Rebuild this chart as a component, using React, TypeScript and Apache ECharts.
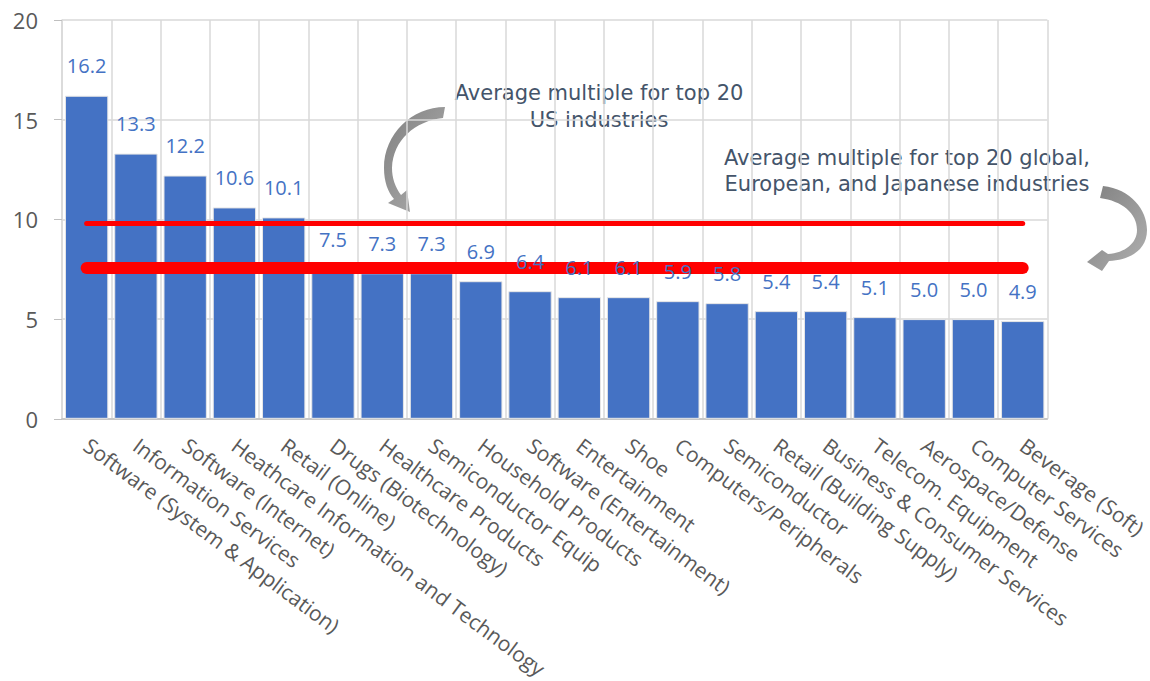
import React, { useEffect, useRef } from "react";
import * as echarts from "echarts";

const categories = [
  "Software (System & Application)",
  "Information Services",
  "Software (Internet)",
  "Heathcare Information and Technology",
  "Retail (Online)",
  "Drugs (Biotechnology)",
  "Healthcare Products",
  "Semiconductor Equip",
  "Household Products",
  "Software (Entertainment)",
  "Entertainment",
  "Shoe",
  "Computers/Peripherals",
  "Semiconductor",
  "Retail (Building Supply)",
  "Business & Consumer Services",
  "Telecom. Equipment",
  "Aerospace/Defense",
  "Computer Services",
  "Beverage (Soft)",
];
const multiples = [16.2, 13.3, 12.2, 10.6, 10.1, 7.5, 7.3, 7.3, 6.9, 6.4, 6.1, 6.1, 5.9, 5.8, 5.4, 5.4, 5.1, 5.0, 5.0, 4.9];
const usAverage = 9.8;
const globalAverage = 7.6;
const yTicks = { min: 0, max: 20, interval: 5 };
const noteUS = "Average multiple for top 20\nUS industries";
const noteGlobal = "Average multiple for top 20 global,\nEuropean, and Japanese industries";

const arrow1 =
  "M 445 107 C 412 107 384 134 384 168 C 384 182 388 192 394 199 L 388 203 L 410 212 L 407 190 L 401 195 C 395 187 392 178 392 168 C 393 140 415 121 443 118 Z";
const arrow2 =
  "M 1103 186 C 1131 189 1147 210 1147 230 C 1147 250 1130 260 1109 261 L 1102 271 L 1087 262 L 1102 250 L 1108 254 C 1125 253 1137 243 1137 230 C 1137 213 1122 201 1100 198 Z";

let registered = false;
function registerArrows() {
  if (registered) return;
  registered = true;
  echarts.graphic.registerShape("arrowA", echarts.graphic.extendPath(arrow1, {}) as any);
  echarts.graphic.registerShape("arrowB", echarts.graphic.extendPath(arrow2, {}) as any);
}

export default function App() {
  const ref = useRef<HTMLDivElement>(null);
  useEffect(() => {
    document.body.style.margin = "0";
    registerArrows();
    const chart = echarts.init(ref.current!, null, { renderer: "svg" });
    const gridColor = "#d9d9d9";
    const arrowFill = new echarts.graphic.LinearGradient(0, 0, 1, 1, [
      { offset: 0, color: "#808080" },
      { offset: 1, color: "#b0b0b0" },
    ]);
    const noteFont = "21px 'DejaVu Sans'";
    chart.setOption({
      animation: false,
      textStyle: { fontFamily: "Open Sans" },
      grid: { left: 62, top: 20, width: 987, height: 400, containLabel: false },
      xAxis: {
        type: "category",
        data: categories,
        axisLine: { show: true, lineStyle: { color: "#bfbfbf", width: 1.5 } },
        axisTick: { show: false },
        splitLine: { show: true, interval: 0, lineStyle: { color: gridColor, width: 1.5 } },
        axisLabel: {
          interval: 0,
          rotate: -36.5,
          margin: 24,
          fontSize: 21,
          color: "#595959",
          fontFamily: "Open Sans",
        },
      },
      yAxis: {
        type: "value",
        min: yTicks.min,
        max: yTicks.max,
        interval: yTicks.interval,
        axisLine: { show: true, lineStyle: { color: gridColor, width: 1.5 } },
        axisTick: { show: true, length: 8, lineStyle: { color: "#bfbfbf" } },
        splitLine: { show: true, lineStyle: { color: gridColor, width: 1.5 } },
        axisLabel: { fontSize: 22, color: "#595959", margin: 24, fontFamily: "Open Sans" },
      },
      series: [
        {
          type: "bar",
          data: multiples,
          barCategoryGap: "12%",
          itemStyle: { color: "#4472C4", borderColor: "#e6e6e6", borderWidth: 1 },
          z: 2,
        },
        {
          type: "line",
          data: [],
          z: 5,
          markLine: {
            silent: true,
            symbol: "none",
            label: { show: false },
            data: [
              [
                { coord: [categories[0], usAverage] },
                { coord: [categories[categories.length - 1], usAverage] },
              ],
            ],
            lineStyle: { color: "#ff0000", width: 5, type: "solid", cap: "round" },
          },
        },
        {
          type: "line",
          data: [],
          z: 5,
          markLine: {
            silent: true,
            symbol: "none",
            label: { show: false },
            data: [
              [
                { coord: [categories[0], globalAverage] },
                { coord: [categories[categories.length - 1], globalAverage] },
              ],
            ],
            lineStyle: { color: "#ff0000", width: 12, type: "solid", cap: "round" },
          },
        },
        {
          type: "bar",
          data: multiples,
          barCategoryGap: "12%",
          barGap: "-100%",
          itemStyle: { color: "rgba(0,0,0,0)" },
          z: 10,
          label: {
            show: true,
            position: "top",
            distance: 20,
            fontSize: 20,
            color: "#4472C4",
            fontFamily: "Open Sans",
            formatter: (p: any) => Number(p.value).toFixed(1),
          },
        },
      ],
      graphic: [
        {
          type: "text",
          x: 599,
          y: 79,
          style: {
            text: noteUS,
            fill: "#44546A",
            font: noteFont,
            lineHeight: 27,
            align: "center",
          },
        },
        {
          type: "text",
          x: 907,
          y: 145,
          style: {
            text: noteGlobal,
            fill: "#44546A",
            font: noteFont,
            lineHeight: 26,
            align: "center",
          },
        },
        { type: "arrowA", x: 0, y: 0, style: { fill: arrowFill } },
        { type: "arrowB", x: 0, y: 0, style: { fill: arrowFill } },
      ],
    });
    return () => chart.dispose();
  }, []);
  return <div ref={ref} style={{ width: 1150, height: 681 }} />;
}
